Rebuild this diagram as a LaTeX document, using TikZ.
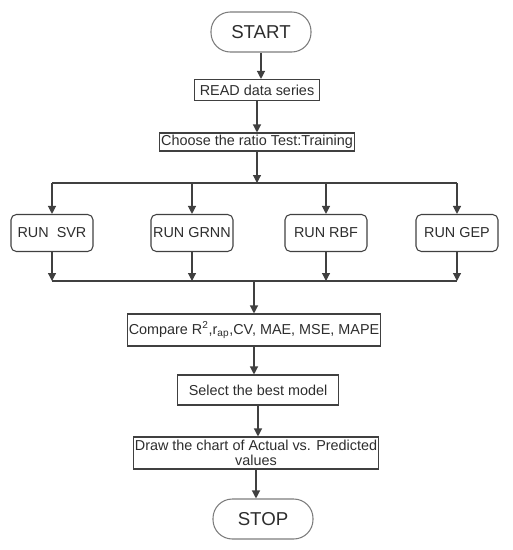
\documentclass[tikz,border=0pt]{standalone}
\usepackage{fontspec}
\setmainfont{Liberation Sans}
\usetikzlibrary{arrows.meta}
\definecolor{fcink}{RGB}{64,64,64}
\definecolor{fcedge}{RGB}{125,125,125}
\definecolor{fctext}{RGB}{45,45,45}

\begin{document}
\begin{tikzpicture}[
  x=0.75pt, y=-0.75pt,
  font=\fontsize{10.8}{10.8}\selectfont,
  term/.style={draw=fcedge, line width=0.8pt, rounded corners=14.5pt, text=fctext,
    minimum width=75pt, minimum height=30pt, font=\fontsize{14}{15}\selectfont},
  proc/.style={draw=fcink, line width=0.8pt, text=fctext, inner sep=1pt, align=center},
  run/.style={proc, rounded corners=4pt, minimum width=61.5pt, minimum height=27.75pt},
  arr/.style={-{Triangle[length=6pt,width=6pt]}, fcink, line width=0.9pt},
  ln/.style={fcink, line width=0.9pt}
]
\useasboundingbox (0,0) rectangle (513,550);

\node[term] (start) at (261,32) {START};
\node[proc, minimum width=94pt, minimum height=15.75pt] (read) at (257,90) {READ data series};
\node[proc, minimum width=143pt, minimum height=13.5pt] (ratio) at (257,142) {Choose the ratio Test:Training};
\draw[arr] (start) -- (start |- read.north);
\draw[arr] (read) -- (read |- ratio.north);

% four models
\coordinate (splitL) at (52,183);
\coordinate (splitR) at (457,183);
\node[run] (svr) at (52,233) {RUN~ SVR};
\node[run] (grnn) at (192,233) {RUN GRNN};
\node[run] (rbf) at (326,233) {RUN RBF};
\node[run] (gep) at (457,233) {RUN GEP};
\draw[ln] (splitL) -- (splitR);
\draw[arr] (ratio.south) -- (ratio.south |- splitL);
\foreach \m in {svr,grnn,rbf,gep}
  \draw[arr] (\m.north |- splitL) -- (\m.north);

\coordinate (joinL) at (52,281);
\coordinate (joinR) at (457,281);
\draw[ln] (joinL) -- (joinR);
\foreach \m in {svr,grnn,rbf,gep}
  \draw[arr] (\m.south) -- (\m.south |- joinL);

\node[proc, minimum width=182pt, minimum height=24pt] (cmp) at (254,330)
  {Compare R\textsuperscript{2},r\textsubscript{ap},CV, MAE, MSE, MAPE};
\node[proc, minimum width=121pt, minimum height=22.5pt] (best) at (258,390) {Select the best model};
\node[proc, minimum width=181.5pt, minimum height=24pt] (chart) at (256,453)
  {Draw the chart of Actual vs. Predicted\\values};
\node[term] (stop) at (263,519) {STOP};
\draw[arr] (joinL -| cmp) -- (cmp.north);
\draw[arr] (cmp) -- (cmp |- best.north);
\draw[arr] (best) -- (best |- chart.north);
\draw[arr] (chart) -- (chart |- stop.north);
\end{tikzpicture}
\end{document}
